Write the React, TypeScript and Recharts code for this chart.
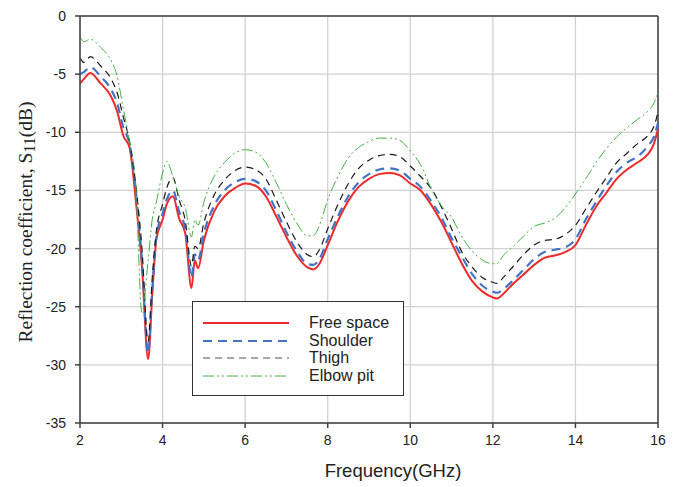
import React from 'react';
import { LineChart, Line, XAxis, YAxis, CartesianGrid, ReferenceLine, Legend } from 'recharts';

// frequency points (GHz) shared by all four measurements
const freq = [
  2, 2.1, 2.25, 2.5, 2.75, 2.9, 3.05, 3.2, 3.35, 3.5,
  3.65, 3.75, 3.85, 4.0, 4.1, 4.25, 4.4, 4.55, 4.7, 4.78,
  4.86, 5.0, 5.25, 5.5, 5.75, 6.0, 6.25, 6.5, 6.75, 7.0,
  7.25, 7.5, 7.65, 7.8, 8.0, 8.25, 8.5, 8.75, 9.0, 9.25,
  9.5, 9.75, 10.0, 10.25, 10.5, 10.75, 11.0, 11.25, 11.5, 11.75,
  12.0, 12.1, 12.25, 12.5, 12.75, 13.0, 13.25, 13.5, 13.75, 14.0,
  14.25, 14.5, 14.75, 15.0, 15.25, 15.5, 15.75, 15.9, 16.0,
];

const freeSpace = [
  -5.8, -5.4, -4.9, -5.8, -6.9, -8.2, -10.3, -11.3, -15.8, -21.5,
  -29.5, -24.0, -19.2, -17.5, -16.2, -15.5, -17.4, -18.7, -23.4, -21.0,
  -21.7, -19.3, -16.8, -15.5, -14.8, -14.4, -14.6, -15.5, -17.2, -19.0,
  -20.6, -21.6, -21.8, -21.3, -19.7, -17.6, -15.9, -14.7, -14.0, -13.6,
  -13.5, -13.7, -14.4, -15.0, -16.2, -17.7, -19.5, -21.3, -22.8, -23.7,
  -24.2, -24.3, -23.9, -23.0, -22.2, -21.4, -20.8, -20.6, -20.3, -19.7,
  -18.0, -16.4, -15.2, -14.0, -13.2, -12.6, -11.9, -11.0, -9.7,
];

const shoulder = [
  -5.0, -4.8, -4.4, -5.2, -6.3, -7.5, -9.6, -11.0, -15.0, -21.0,
  -29.0, -23.5, -19.0, -17.0, -15.8, -15.0, -16.8, -18.3, -22.5, -20.5,
  -21.0, -18.7, -16.3, -15.0, -14.3, -14.0, -14.2, -15.0, -16.7, -18.6,
  -20.2, -21.3, -21.4, -20.9, -19.2, -17.2, -15.5, -14.3, -13.6, -13.2,
  -13.1, -13.3, -14.0, -14.7, -15.9, -17.3, -19.1, -20.7, -22.2, -23.2,
  -23.7, -23.8, -23.5, -22.7, -21.8, -20.9, -20.3, -20.1, -19.9, -19.2,
  -17.5, -16.0, -14.6, -13.4, -12.6, -12.1, -11.2, -10.4, -9.2,
];

const thigh = [
  -3.6, -4.0, -3.5, -4.3, -5.4, -6.6, -8.7, -10.8, -14.5, -20.0,
  -28.0, -22.5, -18.5, -16.2, -14.8, -13.9, -15.8, -17.6, -21.5, -19.8,
  -20.0, -17.8, -15.4, -14.1, -13.3, -13.0, -13.2, -14.0, -15.8, -17.7,
  -19.4, -20.5, -20.7, -20.1, -18.3, -16.2, -14.4, -13.1, -12.4, -12.0,
  -11.9, -12.1, -12.9, -13.8, -14.8, -16.4, -18.3, -20.3, -21.6, -22.5,
  -22.9, -23.0, -22.5, -21.5, -20.5, -19.7, -19.3, -19.2, -18.8, -18.0,
  -16.6, -15.2, -13.9, -12.6, -11.8, -11.0, -10.3, -9.5, -8.3,
];

const elbowPit = [
  -1.8, -2.2, -2.0, -2.7, -3.8, -5.2, -8.0, -10.8, -14.5, -25.5,
  -21.0, -17.5, -16.0, -13.5, -12.5, -13.8, -15.5, -16.5, -19.0, -17.5,
  -18.0, -16.0, -13.8, -12.6, -11.8, -11.5, -11.7, -12.6, -14.3, -16.2,
  -17.8, -18.9, -18.9, -18.0, -15.8, -13.8, -12.2, -11.3, -10.8, -10.5,
  -10.5, -10.7, -11.6, -12.8, -14.8, -16.3, -17.3, -19.0, -20.2, -21.0,
  -21.3, -21.3, -20.6, -19.8, -18.9, -18.1, -17.8, -17.4, -16.5, -15.3,
  -14.0, -12.6, -11.4, -10.4, -9.6, -8.9, -8.2, -7.5, -6.6,
];

const xTicks = [2, 4, 6, 8, 10, 12, 14, 16];
const yTicks = [0, -5, -10, -15, -20, -25, -30, -35];

const data = freq.map((f, i) => ({
  f,
  free: freeSpace[i],
  shoulder: shoulder[i],
  thigh: thigh[i],
  elbow: elbowPit[i],
}));

const series = [
  { key: 'free', name: 'Free space', color: '#ee2a2a', width: 2, dash: undefined, legendColor: '#ee2a2a' },
  { key: 'shoulder', name: 'Shoulder', color: '#4472c4', width: 2.2, dash: '9 6', legendColor: '#4472c4' },
  { key: 'thigh', name: 'Thigh', color: '#1a1a1a', width: 1.2, dash: '7 5', legendColor: '#555' },
  { key: 'elbow', name: 'Elbow pit', color: '#44b044', width: 1, dash: '11 3 2 3 2 3', legendColor: '#44b044' },
];

const sans = '"Liberation Sans", Arial, sans-serif';

function LegendBox() {
  return (
    <div style={{ width: 212, height: 95, border: '1px solid #333', background: '#fff', paddingTop: 12, boxSizing: 'border-box', fontFamily: sans, fontSize: 16, color: '#222' }}>
      {series.map(s => (
        <div key={s.key} style={{ display: 'flex', alignItems: 'center', height: 17.7 }}>
          <svg width={96} height={18} style={{ marginLeft: 10 }}>
            <line x1={0} y1={9} x2={86} y2={9} stroke={s.legendColor} strokeWidth={s.width} strokeDasharray={s.dash} />
          </svg>
          <span style={{ marginLeft: 10, lineHeight: '18px' }}>{s.name}</span>
        </div>
      ))}
    </div>
  );
}

function YLabel(props: any) {
  const cx = 17;
  const cy = 214;
  return (
    <text x={cx} y={cy} transform={`rotate(-90 ${cx} ${cy})`} textAnchor="middle" dominantBaseline="central"
      fontFamily='"Liberation Serif", "Times New Roman", serif' fontSize={19.5} fill="#222">
      Reflection coefficient, S<tspan fontSize={16} dy={4}>11</tspan><tspan dy={-4}>(dB)</tspan>
    </text>
  );
}

function XLabel(props: any) {
  const vb = props.viewBox || { x: 72, y: 415, width: 578 };
  return (
    <text x={385} y={vb.y + 54} textAnchor="middle" fontFamily={sans} fontSize={18.5} fill="#222">
      Frequency(GHz)
    </text>
  );
}

export default function App() {
  return (
    <div style={{ width: 676, height: 479, background: '#fff' }}>
      <LineChart width={676} height={479} data={data} margin={{ top: 8, right: 26, left: 24, bottom: 4 }}>
        <CartesianGrid stroke="#d2d2d2" strokeWidth={1.3} />
        <XAxis dataKey="f" type="number" domain={[2, 16]} ticks={xTicks} height={60}
          tick={{ fontSize: 14, fill: '#222', fontFamily: sans }} tickSize={5} tickMargin={7}
          stroke="#404040" strokeWidth={1.5} label={<XLabel />} />
        <YAxis type="number" domain={[-35, 0]} ticks={yTicks} width={48} interval={0}
          tick={{ fontSize: 14, fill: '#222', fontFamily: sans }} tickSize={5} tickMargin={9}
          stroke="#404040" strokeWidth={1.5} label={<YLabel />} />
        <ReferenceLine y={0} stroke="#404040" strokeWidth={1.5} />
        <ReferenceLine x={16} stroke="#404040" strokeWidth={1.5} />
        <Legend layout="vertical" align="center" verticalAlign="middle" content={<LegendBox />}
          wrapperStyle={{ left: 184, top: 293, width: 212 }} />
        {series.map(s => (
          <Line key={s.key} dataKey={s.key} name={s.name} type="monotone" stroke={s.color}
            strokeWidth={s.width} strokeDasharray={s.dash} dot={false} isAnimationActive={false} />
        ))}
      </LineChart>
    </div>
  );
}
